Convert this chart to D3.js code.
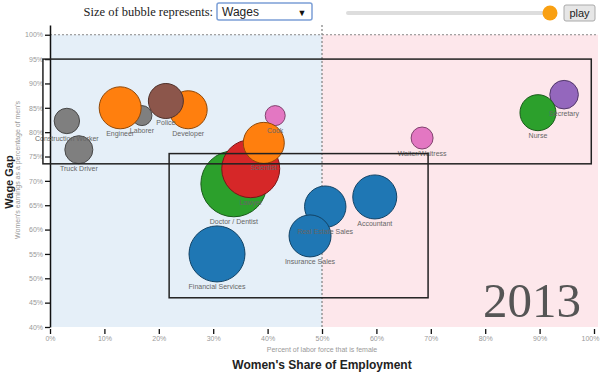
<!DOCTYPE html>
<html>
<head>
<meta charset="utf-8">
<script src="https://cdn.jsdelivr.net/npm/d3@7"></script>
<style>
  body { margin: 0; background: #fff; }
  svg { display: block; font-family: "Liberation Sans", Arial, sans-serif; }
</style>
</head>
<body>
<svg id="chart" width="600" height="373"></svg>
<script>
// occupations, drawn in this order
const jobs = ['Construction Worker', 'Truck Driver', 'Laborer', 'Engineer', 'Developer', 'Police', 'Cook',
  'Doctor / Dentist', 'Lawyer', 'Scientist', 'Secretary', 'Nurse', 'Waiter/Waitress',
  'Accountant', 'Real Estate Sales', 'Insurance Sales', 'Financial Services'];
const sectors = ['Trades', 'Trades', 'Trades', 'Tech', 'Tech', 'Protective', 'Food',
  'Health', 'Legal', 'Tech', 'Office', 'Health', 'Food',
  'Finance', 'Finance', 'Finance', 'Finance'];
// percent of labor force that is female
const femaleShare = [3.1, 5.3, 16.9, 12.9, 25.4, 21.3, 41.4, 33.8, 36.9, 39.3, 94.5, 89.7, 68.4, 59.7, 50.6, 47.8, 30.7];
// women's earnings as % of men's
const wageRatio = [82.3, 76.4, 83.4, 85.0, 84.6, 86.4, 83.4, 69.4, 72.5, 77.8, 87.7, 84.0, 78.8, 66.7, 64.7, 58.7, 55.0];
// weekly wages (bubble size)
const wages = [576, 661, 400, 1117, 987, 889, 400, 1900, 1639, 1085, 680, 922, 465, 1183, 1098, 1117, 1574];

const sectorOrder = ['Finance', 'Tech', 'Health', 'Legal', 'Office', 'Protective', 'Food', 'Trades'];
const xTicks = d3.range(0, 101, 10);
const yTicks = d3.range(40, 101, 5);
const year = '2013';

// highlighted regions [x0, x1, y0, y1] in data units
const boxes = [[-1.3, 99.5, 95, 73.5], [21.9, 69.5, 75.6, 46]];

const svg = d3.select('#chart');
const x = d3.scaleLinear().domain([0, 100]).range([50, 594]);
const y = d3.scaleLinear().domain([40, 102]).range([327, 25]);
const r = d3.scaleLinear().domain([400, 1900]).range([10, 33]);
const color = d3.scaleOrdinal().domain(sectorOrder).range(d3.schemeCategory10);
const pct = d => d + '%';

// backgrounds
svg.append('rect').attr('x', x(0)).attr('y', y(100))
  .attr('width', x(50) - x(0)).attr('height', y(40) - y(100)).attr('fill', '#e5eff8');
svg.append('rect').attr('x', x(50)).attr('y', y(100))
  .attr('width', 598 - x(50)).attr('height', y(40) - y(100)).attr('fill', '#fde7eb');

// reference lines
svg.append('line').attr('x1', x(0)).attr('x2', 598).attr('y1', y(100)).attr('y2', y(100))
  .attr('stroke', '#888').attr('stroke-dasharray', '2,2');
svg.append('line').attr('x1', x(50)).attr('x2', x(50)).attr('y1', 25).attr('y2', y(40))
  .attr('stroke', '#888').attr('stroke-width', 1.3).attr('stroke-dasharray', '2,2');

// year
svg.append('text').attr('x', 581).attr('y', 317).attr('text-anchor', 'end')
  .style('font-family', '"Liberation Serif", "Times New Roman", serif')
  .style('font-size', '49px').attr('fill', '#555').text(year);

// axes
const yAxis = svg.append('g').attr('transform', `translate(${x(0)},0)`)
  .call(d3.axisLeft(y).tickValues(yTicks).tickFormat(pct).tickSize(5).tickSizeOuter(0));
yAxis.select('.domain').attr('stroke', '#111').attr('stroke-width', 1.5);
yAxis.selectAll('.tick line').attr('stroke', '#111').attr('stroke-width', 1.3);
yAxis.selectAll('.tick text').attr('fill', '#999').style('font-size', '7px').attr('x', -7);

const xAxis = svg.append('g').attr('transform', `translate(0,${y(40) + 2})`)
  .call(d3.axisBottom(x).tickValues(xTicks).tickFormat(pct).tickSize(5).tickSizeOuter(0));
xAxis.select('.domain').remove();
xAxis.selectAll('.tick line').attr('stroke', '#111').attr('stroke-width', 1.3);
xAxis.selectAll('.tick text').attr('fill', '#999').style('font-size', '7px').attr('y', 7)
  .attr('dx', d => d === 100 ? -4 : 0);

// axis titles
svg.append('text').attr('transform', 'translate(13,182) rotate(-90)').attr('text-anchor', 'middle')
  .style('font-size', '11px').style('font-weight', 'bold').attr('fill', '#222').text('Wage Gap');
svg.append('text').attr('transform', 'translate(20,170) rotate(-90)').attr('text-anchor', 'middle')
  .style('font-size', '7px').attr('fill', '#999').text("Women's earnings as a percentage of men's");
svg.append('text').attr('x', x(50)).attr('y', 352).attr('text-anchor', 'middle')
  .style('font-size', '7px').attr('fill', '#999').text('Percent of labor force that is female');
svg.append('text').attr('x', x(50)).attr('y', 369).attr('text-anchor', 'middle')
  .style('font-size', '12px').style('font-weight', 'bold').attr('fill', '#222').text("Women's Share of Employment");

// bubbles
const data = jobs.map((name, i) => ({
  name, sector: sectors[i], share: femaleShare[i], ratio: wageRatio[i], wage: wages[i]
}));

svg.append('g').selectAll('circle')
  .data(data)
  .join('circle')
    .attr('cx', d => x(d.share))
    .attr('cy', d => y(d.ratio))
    .attr('r', d => r(d.wage))
    .attr('fill', d => color(d.sector))
    .attr('stroke', d => d3.color(color(d.sector)).darker(1.6))
    .attr('stroke-width', 1);

svg.append('g').selectAll('text')
  .data(data)
  .join('text')
    .attr('x', d => x(d.share))
    .attr('y', d => y(d.ratio) + r(d.wage) + 7)
    .attr('text-anchor', 'middle')
    .style('font-size', '7px')
    .attr('fill', '#666')
    .text(d => d.name);

// highlight boxes
svg.append('g').selectAll('rect')
  .data(boxes)
  .join('rect')
    .attr('x', d => x(d[0]))
    .attr('y', d => y(d[2]))
    .attr('width', d => x(d[1]) - x(d[0]))
    .attr('height', d => y(d[3]) - y(d[2]))
    .attr('fill', 'none')
    .attr('stroke', '#222')
    .attr('stroke-width', 1.5);

// controls
svg.append('text').attr('x', 213).attr('y', 16).attr('text-anchor', 'end')
  .style('font-family', '"Liberation Serif", "Times New Roman", serif').style('font-size', '12.5px')
  .attr('fill', '#222').text('Size of bubble represents:');
svg.append('rect').attr('x', 217).attr('y', 3).attr('width', 95).attr('height', 17).attr('rx', 2)
  .attr('fill', '#fff').attr('stroke', '#7c9fd6').attr('stroke-width', 1.5);
svg.append('text').attr('x', 222).attr('y', 16).style('font-size', '12px').attr('fill', '#222').text('Wages');
svg.append('text').attr('x', 302).attr('y', 15.5).attr('text-anchor', 'middle').style('font-size', '9px')
  .attr('fill', '#111').text('▼');

const slider = d3.scaleLinear().domain([0, 1]).range([348, 550]);
svg.append('line').attr('x1', slider(0)).attr('x2', slider(1)).attr('y1', 13).attr('y2', 13)
  .attr('stroke', '#ddd').attr('stroke-width', 4).attr('stroke-linecap', 'round');
svg.append('circle').attr('cx', slider(1)).attr('cy', 13).attr('r', 7.5).attr('fill', '#f9a012');

svg.append('rect').attr('x', 564).attr('y', 5).attr('width', 31).attr('height', 16).attr('rx', 2)
  .attr('fill', '#e6e6e6').attr('stroke', '#aaa');
svg.append('text').attr('x', 579.5).attr('y', 17).attr('text-anchor', 'middle')
  .style('font-size', '11px').attr('fill', '#222').text('play');
</script>
</body>
</html>
